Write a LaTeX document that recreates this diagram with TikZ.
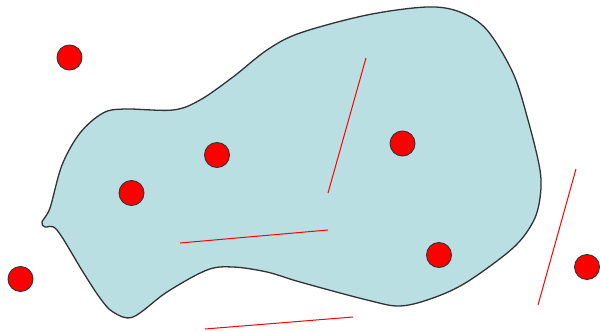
\documentclass[tikz,border=0pt]{standalone}
\definecolor{blobfill}{RGB}{185,223,227}
\definecolor{blobline}{RGB}{50,50,50}
\definecolor{dotred}{RGB}{255,0,0}
\tikzset{
  dot/.style={circle, fill=dotred, draw=black!80, line width=0.9pt, minimum size=25pt, inner sep=0pt},
  redline/.style={draw=red, line width=1pt},
  blob/.style={fill=blobfill, draw=blobline, line width=1.3pt}
}
\begin{document}
\begin{tikzpicture}[x=1pt,y=-1pt]
\useasboundingbox (0,0) rectangle (600,332);
\path[blob] plot[smooth cycle, tension=0.55] coordinates {
(62,165) (80,133) (103,113) (125,109) (173,110) (200,100) (233,77) (267,50) (300,33) (367,15) (427,7) (460,12) (487,30) (513,73) (528,120) (540,170) (540,198) (533,222) (513,248) (467,282) (433,298) (400,306) (367,300) (300,282) (267,272) (233,267) (207,270) (167,292) (133,317) (113,312) (100,298) (83,272) (57,230) (45,227) (42,222) (50,208)};
\draw[redline] (366,58) -- (328,193);
\draw[redline] (180,243) -- (328,230);
\draw[redline] (205,329) -- (353,317);
\draw[redline] (576,169) -- (538,305);
\node[dot] (d1) at (69.5,57.5) {};
\node[dot] (d2) at (217,155) {};
\node[dot] (d3) at (131.5,193) {};
\node[dot] (d4) at (402.5,143.5) {};
\node[dot] (d5) at (439,255) {};
\node[dot] (d6) at (20.5,279) {};
\node[dot] (d7) at (587,267) {};
\end{tikzpicture}
\end{document}
